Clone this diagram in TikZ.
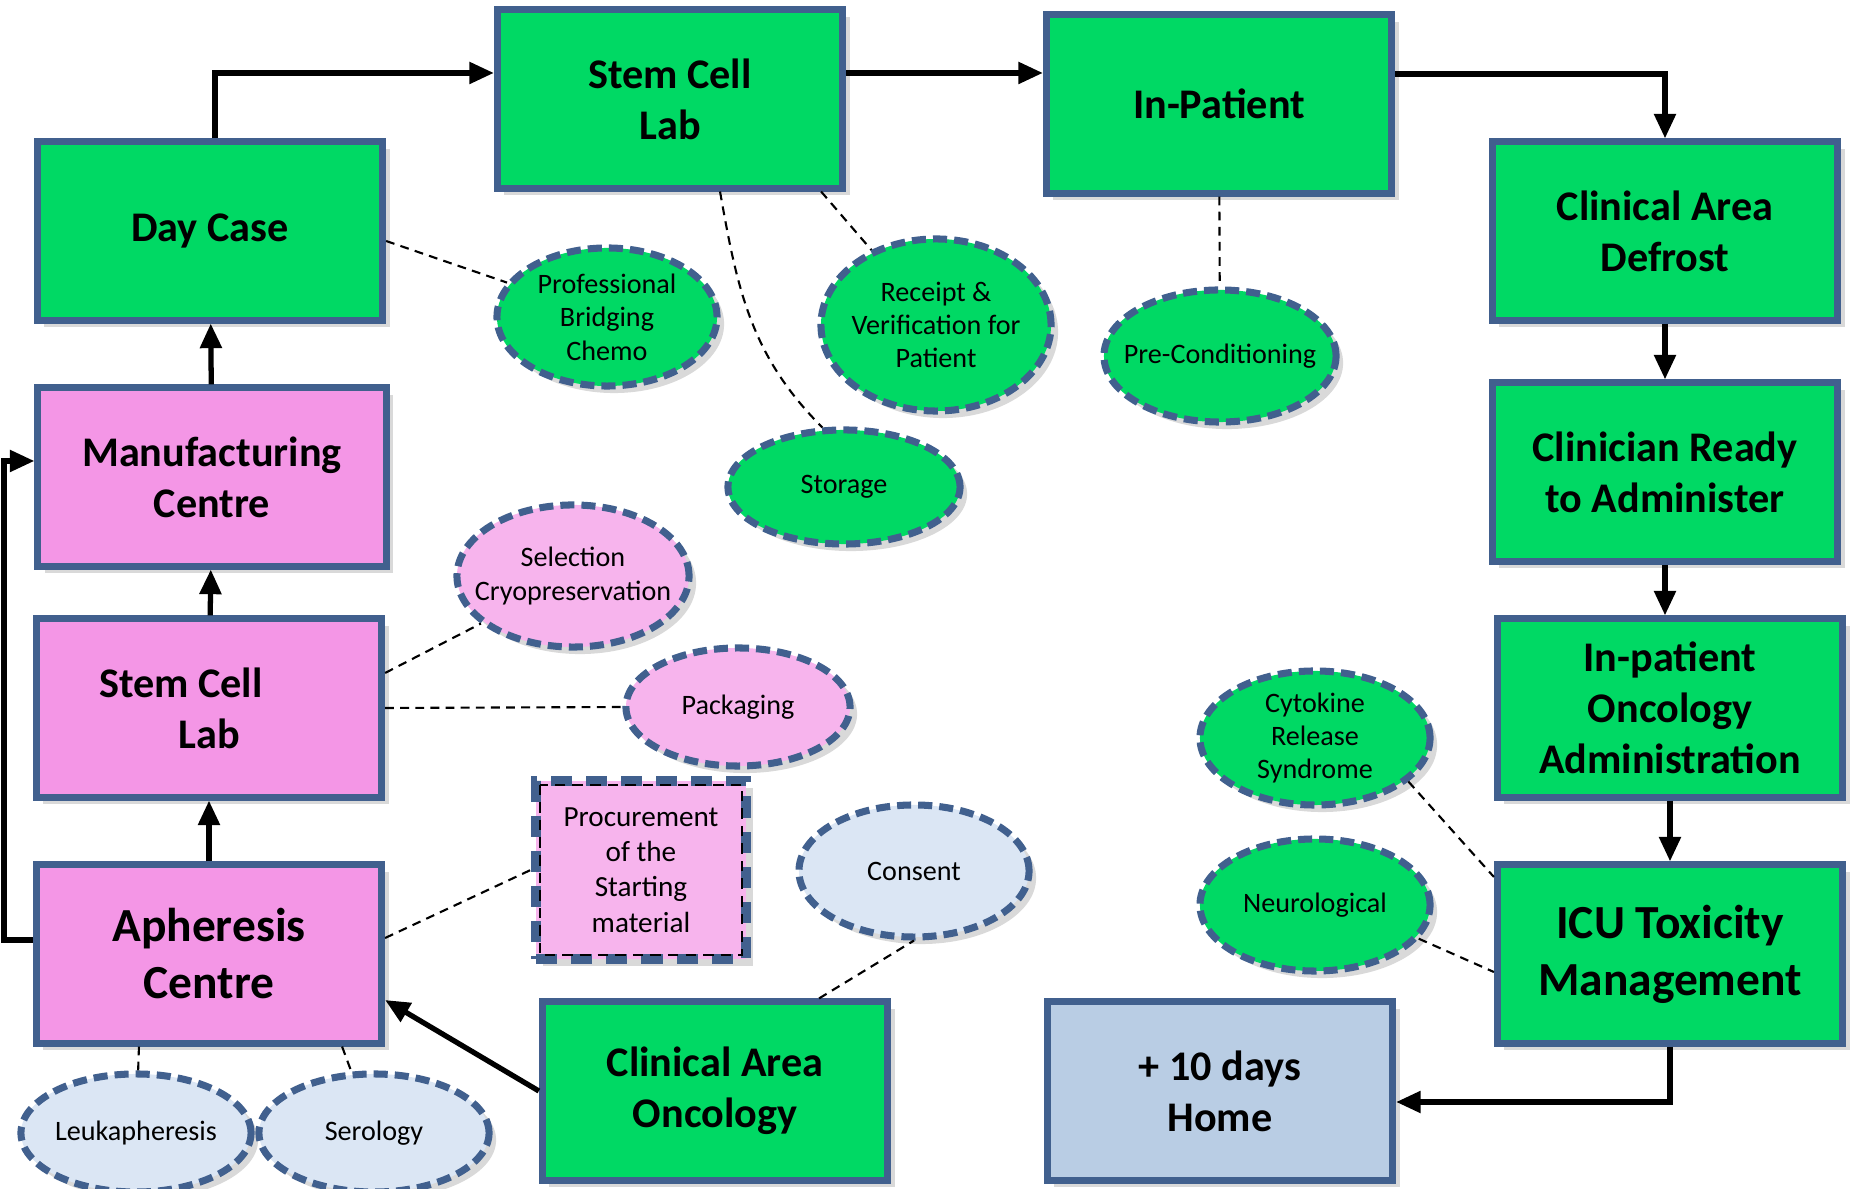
\documentclass[tikz,border=0pt]{standalone}
\usepackage{fontspec}
\setmainfont{Carlito}
\usetikzlibrary{shapes.geometric, arrows.meta, shadows}

\definecolor{stepgreen}{RGB}{0,217,100}
\definecolor{labpink}{RGB}{244,150,230}
\definecolor{ovalpink}{RGB}{247,180,237}
\definecolor{ovalblue}{RGB}{219,230,244}
\definecolor{homeblue}{RGB}{185,205,228}
\definecolor{edgeblue}{RGB}{65,96,142}

\begin{document}
\begin{tikzpicture}[x=0.01cm, y=-0.01cm,
  stage/.style={rectangle, draw=edgeblue, line width=2pt, minimum width=3.45cm, minimum height=1.78cm, align=center, font=\bfseries\fontsize{12}{14.5}\selectfont, drop shadow={shadow xshift=2pt, shadow yshift=-2pt, opacity=0.3}},
  bigstage/.style={stage, font=\bfseries\fontsize{13.5}{16.2}\selectfont},
  task/.style={ellipse, draw=edgeblue, line width=2pt, dash pattern=on 4pt off 2pt, inner xsep=-6mm, inner ysep=-3mm, align=center, font=\fontsize{8}{9.5}\selectfont, drop shadow={shadow xshift=2pt, shadow yshift=-2pt, opacity=0.3}},
  flow/.style={-{Triangle[length=7pt,width=6pt]}, line width=1.5pt},
  link/.style={dash pattern=on 2.5pt off 1.8pt, line width=0.6pt}]
\useasboundingbox (0,0) rectangle (1854,1189);

% Top row - Stem Cell Lab and In-Patient
\node (sclTop) [stage, fill=stepgreen] at (670,99) {Stem Cell\\Lab};
\node (inpatient) [stage, fill=stepgreen] at (1219,104) {In-Patient};

% Left column - from Apheresis up to Day Case
\node (daycase) [stage, fill=stepgreen] at (210,231) {Day Case};
\node (manufacturing) [stage, fill=labpink, minimum width=3.48cm] at (212,477) {Manufacturing\\Centre};
\node (sclPink) [stage, fill=labpink] at (209,708) {Stem Cell\kern5.6mm\\Lab};
\node (apheresis) [bigstage, fill=labpink] at (209,954) {Apheresis\\Centre};

% Right column - Defrost down to ICU
\node (defrost) [stage, fill=stepgreen] at (1665,231) {Clinical Area\\Defrost};
\node (clinician) [stage, fill=stepgreen] at (1665,472) {Clinician Ready\\to Administer};
\node (oncadmin) [stage, fill=stepgreen] at (1670,708) {In-patient\\Oncology\\Administration};
\node (icu) [bigstage, fill=stepgreen] at (1670,954) {ICU Toxicity\\Management};

% Bottom row
\node (cao) [stage, fill=stepgreen] at (715,1091) {Clinical Area\\Oncology};
\node (home) [stage, fill=homeblue] at (1220,1091) {+ 10 days\\Home};
\node (procurement) [rectangle, draw=edgeblue, line width=3pt, dash pattern=on 6pt off 4pt, fill=ovalpink, minimum width=2.1cm, minimum height=1.78cm, align=center, font=\fontsize{8.3}{10}\selectfont, drop shadow={shadow xshift=2pt, shadow yshift=-2pt, opacity=0.3}] at (641,870) {Procurement\\of the\\Starting\\material};
\draw[densely dashed, line width=0.6pt] ([xshift=0.9mm,yshift=-0.9mm]procurement.north west) rectangle ([xshift=-0.9mm,yshift=0.9mm]procurement.south east);

% Tasks
\node (chemo) [task, fill=stepgreen, minimum width=2.2cm, minimum height=1.38cm] at (607,317) {Professional\\Bridging\\Chemo};
\node (receipt) [task, fill=stepgreen, minimum width=2.3cm, minimum height=1.72cm] at (936,325) {Receipt \&\\Verification for\\Patient};
\node (precond) [task, fill=stepgreen, minimum width=2.32cm, minimum height=1.32cm] at (1220,356) {Pre-Conditioning};
\node (storage) [task, fill=stepgreen, minimum width=2.32cm, minimum height=1.14cm] at (844,487) {Storage};
\node (selection) [task, fill=ovalpink, minimum width=2.32cm, minimum height=1.42cm] at (573,576) {Selection\\Cryopreservation};
\node (packaging) [task, fill=ovalpink, minimum width=2.24cm, minimum height=1.18cm] at (738,707) {Packaging};
\node (consent) [task, fill=ovalblue, minimum width=2.3cm, minimum height=1.32cm] at (914,871) {Consent};
\node (cytokine) [task, fill=stepgreen, minimum width=2.3cm, minimum height=1.34cm] at (1315,738) {Cytokine\\Release\\Syndrome};
\node (neuro) [task, fill=stepgreen, minimum width=2.3cm, minimum height=1.32cm] at (1315,905) {Neurological};
\node (leuk) [task, fill=ovalblue, minimum width=2.3cm, minimum height=1.18cm] at (136,1133) {Leukapheresis};
\node (serology) [task, fill=ovalblue, minimum width=2.3cm, minimum height=1.18cm] at (374,1133) {Serology};

% Main flow
\draw[flow] ([xshift=0.5mm]daycase.north) |- ([yshift=2.6mm]sclTop.west);
\draw[flow] ([yshift=2.6mm]sclTop.east) -- ([yshift=2.6mm]sclTop.east -| inpatient.west);
\draw[flow] ([yshift=3mm]inpatient.east) -| (defrost.north);
\draw[flow] (defrost) -- (clinician);
\draw[flow] (clinician.south) -- (clinician.south |- oncadmin.north);
\draw[flow] (oncadmin) -- (icu);
\draw[flow] (icu.south) |- ([yshift=-1.1mm]home.east);

\draw[flow] (manufacturing) -- (daycase);
\draw[flow] (sclPink) -- (manufacturing);
\draw[flow] (apheresis) -- (sclPink);
\draw[flow] ([yshift=1.4mm]apheresis.west) -- ++(-0.29cm,0) |- ([yshift=1.6mm]manufacturing.west);
\draw[flow] (cao.west) -- ([yshift=-4.6mm]apheresis.east);

% Task links
\draw[link] ([yshift=-1mm]daycase.east) -- (chemo);
\draw[link] ([xshift=-2.5mm]sclTop.south east) -- (receipt);
\draw[link] ([xshift=5mm]sclTop.south) to[out=-80, in=135] (storage.110);
\draw[link] (inpatient) -- (precond);
\draw[link] ([yshift=3.5mm]sclPink.east) -- (selection);
\draw[link] (sclPink.east) -- (packaging.west);
\draw[link] ([yshift=1.6mm]apheresis.east) -- (procurement.west);
\draw[link] ([xshift=1.04cm]cao.north) -- (consent.south);
\draw[link] ([xshift=-7mm]apheresis.south) -- (leuk);
\draw[link] ([xshift=1.33cm]apheresis.south) -- (serology);
\draw[link] (cytokine.-25) -- ([yshift=7.7mm]icu.west);
\draw[link] (neuro.-18) -- ([yshift=-1.8mm]icu.west);

\end{tikzpicture}
\end{document}
